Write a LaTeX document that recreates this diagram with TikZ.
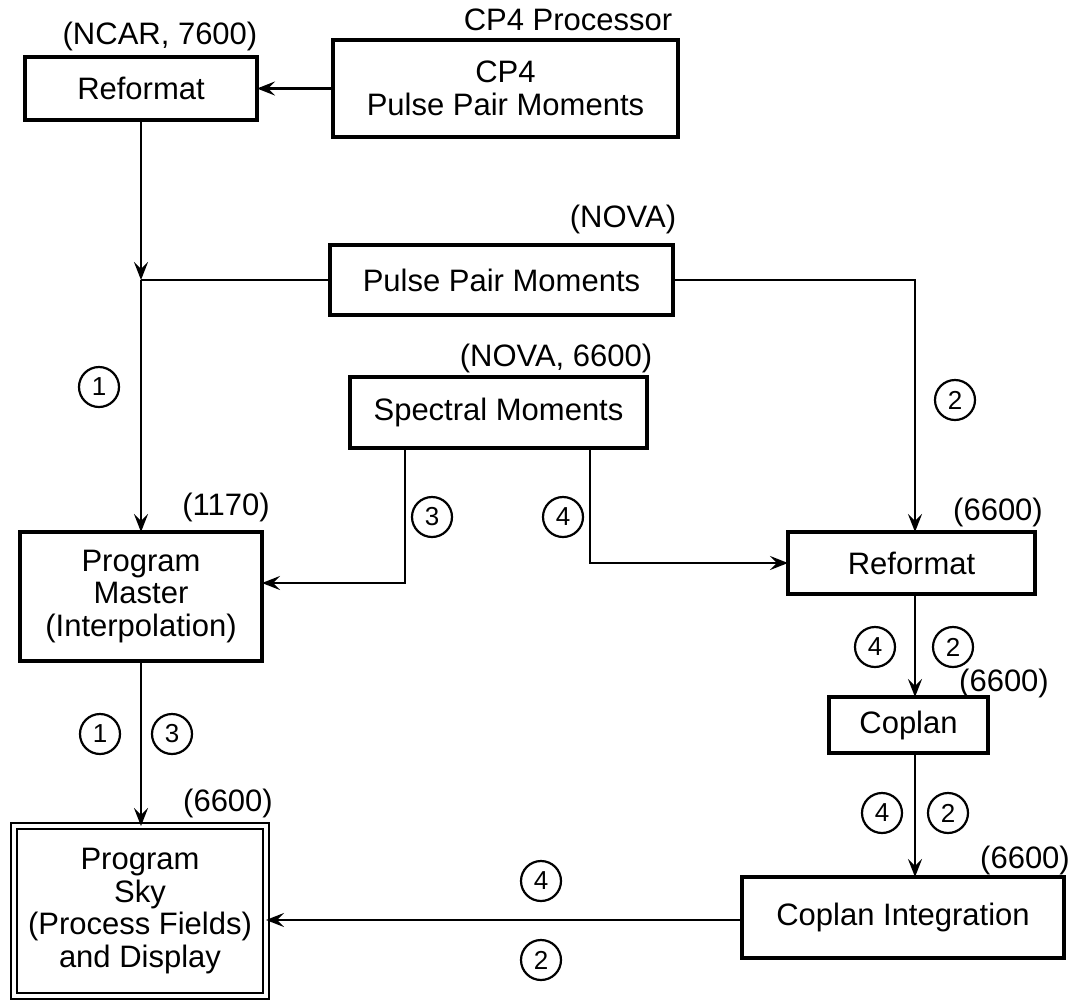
\documentclass[tikz,border=0pt]{standalone}
\usepackage{fontspec}
\setmainfont{Liberation Sans}
\usetikzlibrary{arrows.meta}
\begin{document}
\begin{tikzpicture}[x=1pt,y=-1pt,
  every node/.style={inner sep=0pt, outer sep=0pt},
  txt/.style={font=\fontsize{31}{32.5}\selectfont},
  box/.style={draw, line width=3.2pt, align=center, txt},
  num/.style={draw, circle, line width=2.2pt, minimum size=40pt, font=\fontsize{26}{26}\selectfont},
  arr/.style={line width=2.6pt, -{Stealth[length=18pt,width=14pt,inset=7pt]}},
  ln/.style={line width=2.6pt}]
\useasboundingbox (0,0) rectangle (1068,1002);
% boxes
\node[box, minimum width=232pt, minimum height=63pt] (ref1) at (141,88.5) {Reformat};
\node[box, minimum width=345pt, minimum height=97pt] (cp4) at (505.5,88.5) {CP4\\Pulse Pair Moments};
\node[box, minimum width=343pt, minimum height=70pt] (ppm) at (501.5,280) {Pulse Pair Moments};
\node[box, minimum width=297pt, minimum height=71pt] (spec) at (498.5,412.5) {Spectral Moments};
\node[box, minimum width=242pt, minimum height=129pt] (pm) at (141,596.5) {Program\\Master\\(Interpolation)};
\node[box, minimum width=247pt, minimum height=62pt] (ref2) at (911.5,563) {Reformat};
\node[box, minimum width=159pt, minimum height=56pt] (cop) at (908.5,725) {Coplan};
\node[box, minimum width=322pt, minimum height=81pt] (ci) at (903,917.5) {Coplan Integration};
\node[box, line width=2.6pt, double, double distance=3.5pt, minimum width=252pt, minimum height=170pt] (sky) at (140,911) {Program\\Sky\\(Process Fields)\\and Display};
% labels
\node[txt] (lncar) at (160,36) {(NCAR, 7600)};
\node[txt] (lcp4) at (568,20) {CP4 Processor};
\node[txt] (lnova) at (623,219) {(NOVA)};
\node[txt] (lnova2) at (556,358) {(NOVA, 6600)};
\node[txt] (l1170) at (226,507) {(1170)};
\node[txt] (l6600a) at (998,512) {(6600)};
\node[txt] (l6600b) at (1004,683) {(6600)};
\node[txt] (l6600c) at (1025,860) {(6600)};
\node[txt] (l6600d) at (228,803) {(6600)};
% circled numbers
\node[num] (n1a) at (99,387) {1};
\node[num] (n2a) at (955,400) {2};
\node[num] (n3a) at (432,517) {3};
\node[num] (n4a) at (563,517) {4};
\node[num] (n4b) at (875,647) {4};
\node[num] (n2b) at (953,647) {2};
\node[num] (n4c) at (882,813) {4};
\node[num] (n2c) at (948,813) {2};
\node[num] (n1b) at (100,734) {1};
\node[num] (n3b) at (172,734) {3};
\node[num] (n4d) at (541,881) {4};
\node[num] (n2d) at (541,960) {2};
% connectors
\coordinate (j1) at (141,280);
\draw[arr] (cp4.west) -- (ref1.east);
\draw[arr] (ref1.south) -- (j1);
\draw[ln] (ppm.west) -- (j1);
\draw[arr] (j1) -- (pm.north);
\draw[arr] (ppm.east) -| ([xshift=3.5pt]ref2.north);
\draw[arr] ([xshift=-93.5pt]spec.south) |- ([yshift=13.5pt]pm.east);
\draw[arr] ([xshift=91.5pt]spec.south) |- (ref2.west);
\draw[arr] ([xshift=3.5pt]ref2.south) -- ([xshift=3.5pt]ref2.south |- cop.north);
\draw[arr] ([xshift=6.5pt]cop.south) -- ([xshift=6.5pt]cop.south |- ci.north);
\draw[arr] ([yshift=-2.5pt]ci.west) -- ([yshift=-2.5pt]ci.west -| sky.east);
\draw[arr] (pm.south) -- (pm.south |- sky.north);
\end{tikzpicture}
\end{document}
